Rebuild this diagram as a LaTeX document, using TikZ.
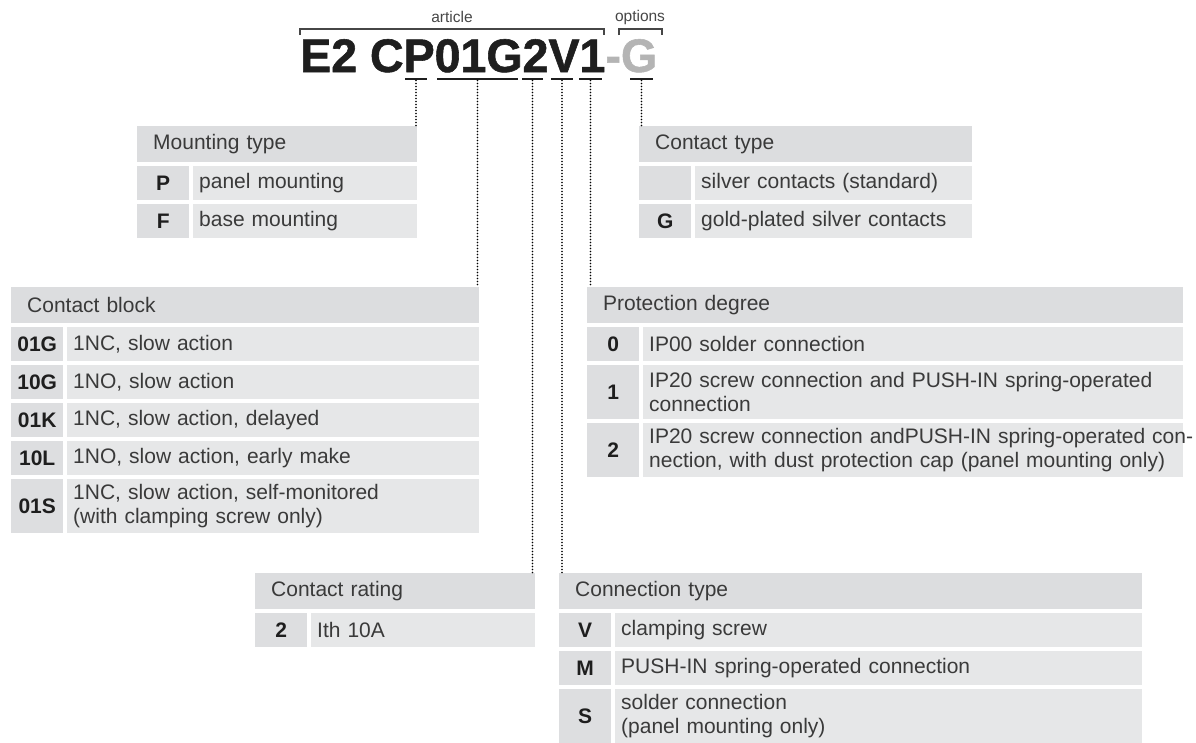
\documentclass[tikz,border=0pt]{standalone}
\usepackage{fontspec}
\usepackage{graphicx}
\setmainfont{Liberation Sans}
\newfontfamily\titlefam[FakeBold=1.2]{Liberation Sans}
\usetikzlibrary{calc}
\definecolor{hdrgray}{RGB}{220,221,223}
\definecolor{keygray}{RGB}{221,222,224}
\definecolor{valgray}{RGB}{230,231,232}
\definecolor{bodytext}{RGB}{58,58,58}
\definecolor{titletext}{RGB}{30,30,30}
\definecolor{optgray}{RGB}{180,180,180}
\definecolor{brk}{RGB}{70,70,70}
\newcommand\bodyfont{\fontsize{21}{24}\selectfont}
\newcommand\thdr[5]{% name, x, y, width, text
  \pgfmathsetmacro\thw{#4-32}%
  \node[hdrcell, text width=\thw pt] (#1) at (#2,#3) {#5};}
\newcommand\trow[7]{% name, x, y, total width, height, key, value
  \node[keycell, minimum height=#5pt] (#1k) at (#2,#3) {#6};
  \pgfmathsetmacro\tvw{#4-56-12}%
  \node[valcell, minimum height=#5pt, text width=\tvw pt] (#1v) at (#2+56,#3) {#7};}
\begin{document}
\begin{tikzpicture}[x=1pt,y=-1pt,
  hdrcell/.style={anchor=north west, fill=hdrgray, minimum height=36pt, inner xsep=16pt, inner ysep=0pt, align=left, font=\bodyfont, text=bodytext},
  keycell/.style={anchor=north west, fill=keygray, minimum width=52pt, inner sep=0pt, align=center, font=\bodyfont\bfseries, text=titletext},
  valcell/.style={anchor=north west, fill=valgray, inner xsep=6pt, inner ysep=0pt, align=left, font=\bodyfont, text=bodytext},
  uline/.style={fill=titletext, inner sep=0pt, minimum height=2.6pt, anchor=center},
  conn/.style={line width=1.9pt, dash pattern=on 0pt off 3pt, line cap=round, draw=black},
  bracket/.style={line width=1.3pt, draw=brk},
  lbl/.style={font=\fontsize{15.5}{18}\selectfont, text=brk, inner sep=0pt}]
\useasboundingbox (0,0) rectangle (1196,742);

% title
\node[anchor=base west, inner sep=0pt, text=titletext, font=\titlefam\bfseries\fontsize{47}{50}\selectfont] (title) at (300,72)
  {\resizebox{357pt}{\height}{E2 CP01G2V1\textcolor{optgray}{-G}}};
\node[lbl] (art) at (452,17) {article};
\node[lbl] (opt) at (640,17) {options};
\draw[bracket] (300,35) -- (300,29) -- (604,29) -- (604,35);
\draw[bracket] (619,35) -- (619,29) -- (662,29) -- (662,35);

% underlines
\node[uline, minimum width=22pt] (uP) at (416,79) {};
\node[uline, minimum width=81pt] (uCB) at (477.5,79) {};
\node[uline, minimum width=21pt] (uR) at (532.5,79) {};
\node[uline, minimum width=22pt] (uV) at (562,79) {};
\node[uline, minimum width=23pt] (uD) at (590.5,79) {};
\node[uline, minimum width=23pt] (uG) at (641.5,79) {};

% Mounting type
\thdr{mh}{137}{126}{280}{Mounting type}
\trow{mp}{137}{166}{280}{34}{P}{panel mounting}
\trow{mf}{137}{204}{280}{34}{F}{base mounting}

% Contact type
\thdr{th}{639}{126}{333}{Contact type}
\trow{ts}{639}{166}{333}{34}{}{silver contacts (standard)}
\trow{tg}{639}{204}{333}{34}{G}{gold-plated silver contacts}

% Contact block
\thdr{bh}{11}{287}{468}{Contact block}
\trow{b1}{11}{327}{468}{34}{01G}{1NC, slow action}
\trow{b2}{11}{365}{468}{34}{10G}{1NO, slow action}
\trow{b3}{11}{403}{468}{34}{01K}{1NC, slow action, delayed}
\trow{b4}{11}{441}{468}{34}{10L}{1NO, slow action, early make}
\trow{b5}{11}{479}{468}{54}{01S}{1NC, slow action, self-monitored\\(with clamping screw only)}

% Protection degree
\thdr{ph}{587}{287}{596}{Protection degree}
\trow{p0}{587}{327}{596}{34}{0}{IP00 solder connection}
\trow{p1}{587}{365}{596}{54}{1}{IP20 screw connection and PUSH-IN spring-operated\\connection}
\trow{p2}{587}{423}{596}{54}{2}{\mbox{IP20 screw connection andPUSH-IN spring-operated con-}\\\mbox{nection, with dust protection cap (panel mounting only)}}

% Contact rating
\thdr{rh}{255}{573}{280}{Contact rating}
\trow{r2}{255}{613}{280}{34}{2}{Ith 10A}

% Connection type
\thdr{ch}{559}{573}{583}{Connection type}
\trow{cv}{559}{613}{583}{34}{V}{clamping screw}
\trow{cm}{559}{651}{583}{34}{M}{PUSH-IN spring-operated connection}
\trow{cs}{559}{689}{583}{54}{S}{solder connection\\(panel mounting only)}

% connectors
\draw[conn] (uP.south) -- (uP.south |- mh.north);
\draw[conn] (uCB.south) -- (uCB.south |- bh.north);
\draw[conn] (uR.south) -- (uR.south |- rh.north);
\draw[conn] (uV.south) -- (uV.south |- ch.north);
\draw[conn] (uD.south) -- (uD.south |- ph.north);
\draw[conn] (uG.south) -- (uG.south |- th.north);
\end{tikzpicture}
\end{document}
